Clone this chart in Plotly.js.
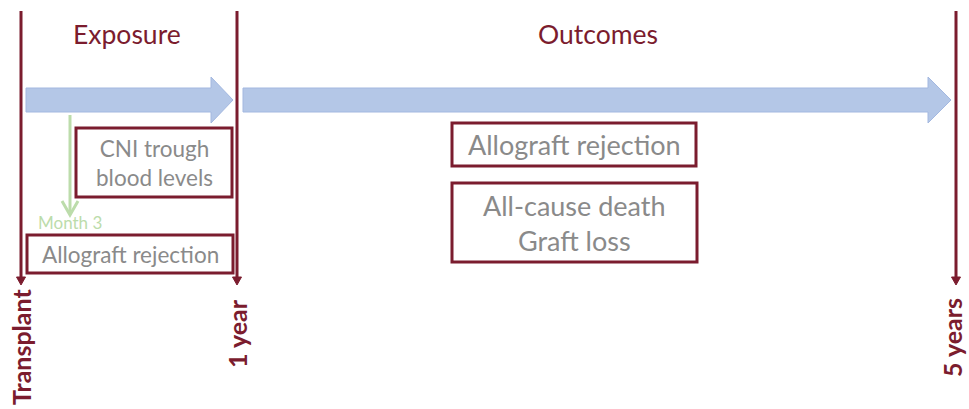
<!DOCTYPE html>
<html>
<head>
<meta charset="utf-8">
<script src="https://cdn.plot.ly/plotly-3.0.1.min.js"></script>
<style>html,body{margin:0;padding:0;background:#fff}#chart{width:969px;height:409px}</style>
</head>
<body>
<div id="chart"></div>
<script>
// ---- content (text of the schematic) ----
const phases = ['Exposure', 'Outcomes'];
const timepoints = ['Transplant', '1 year', '5 years'];
const exposureBoxes = [['CNI trough', 'blood levels'], ['Allograft rejection']];
const outcomeBoxes = [['Allograft rejection'], ['All-cause death', 'Graft loss']];
const markerLabel = 'Month 3';

// ---- geometry / style (pixel space of the schematic) ----
const RED = '#7b1c2e', GREY = '#8a8a8a', BLUE = '#b4c7e7', BLUE_EDGE = '#a3b8e0', GREEN = '#bcdcab';
const FONT = 'Lato, "Open Sans", sans-serif';
const G = {
  timeX: [21, 237, 956], labelX: [21, 237, 952], lineTop: 11, lineEnd: 285, labelY: [347, 334, 338],
  phaseX: [127, 598], phaseY: 34,
  arrows: [{x0: 26, x1: 233, hx: 211}, {x0: 243, x1: 951, hx: 928}], bodyT: 88, bodyB: 112, headT: 77, headB: 123,
  exposureRects: [[76, 128, 232, 197], [27, 235, 233, 273]],
  outcomeRects: [[452, 123, 696, 166], [452, 183, 697, 262]],
  marker: {x: 70, y0: 115, y1: 215, labelY: 222}
};

const shapes = [], annotations = [];

// time lines with arrowheads
timepoints.forEach((t, i) => {
  const x = G.timeX[i];
  shapes.push({type: 'line', x0: x, x1: x, y0: G.lineTop, y1: G.lineEnd - 6, line: {color: RED, width: 3}});
  shapes.push({type: 'path', path: `M${x-4.5},${G.lineEnd-8} L${x+4.5},${G.lineEnd-8} L${x},${G.lineEnd} Z`,
    fillcolor: RED, line: {color: RED, width: 1}});
  annotations.push({x: G.labelX[i], y: G.labelY[i], text: '<b>' + t + '</b>', textangle: -90, showarrow: false,
    xanchor: 'center', yanchor: 'middle', font: {family: FONT, size: 25, color: RED}});
});

// phase titles
phases.forEach((p, i) => annotations.push({x: G.phaseX[i], y: G.phaseY, text: p, showarrow: false,
  font: {family: FONT, size: 26.5, color: RED}}));

// blue block arrows
G.arrows.forEach(a => shapes.push({type: 'path',
  path: `M${a.x0},${G.bodyT} L${a.hx},${G.bodyT} L${a.hx},${G.headT} L${a.x1},${(G.headT+G.headB)/2} L${a.hx},${G.headB} L${a.hx},${G.bodyB} L${a.x0},${G.bodyB} Z`,
  fillcolor: BLUE, line: {color: BLUE_EDGE, width: 1}}));

// boxes
function addBox(r, lines, size) {
  shapes.push({type: 'rect', x0: r[0], y0: r[1], x1: r[2], y1: r[3], line: {color: RED, width: 3}, fillcolor: 'rgba(0,0,0,0)'});
  annotations.push({x: (r[0]+r[2])/2, y: (r[1]+r[3])/2, text: lines.join('<br>'), showarrow: false,
    font: {family: FONT, size: size, color: GREY}, align: 'center'});
}
exposureBoxes.forEach((b, i) => addBox(G.exposureRects[i], b, 22.5));
outcomeBoxes.forEach((b, i) => addBox(G.outcomeRects[i], b, 27));

// month-3 marker arrow
const m = G.marker;
shapes.push({type: 'line', x0: m.x, x1: m.x, y0: m.y0, y1: m.y1 - 1, line: {color: GREEN, width: 3}});
shapes.push({type: 'path', path: `M${m.x-8},${m.y1-14} L${m.x},${m.y1} L${m.x+8},${m.y1-14}`, line: {color: GREEN, width: 3}});
annotations.push({x: m.x, y: m.labelY, text: markerLabel, showarrow: false, font: {family: FONT, size: 17, color: GREEN}});

const layout = {
  width: 969, height: 409, margin: {l: 0, r: 0, t: 0, b: 0},
  paper_bgcolor: '#fff', plot_bgcolor: '#fff', showlegend: false,
  xaxis: {range: [0, 969], visible: false, fixedrange: true},
  yaxis: {range: [409, 0], visible: false, fixedrange: true},
  shapes: shapes, annotations: annotations
};
Plotly.newPlot('chart', [{x: [], y: [], type: 'scatter', hoverinfo: 'skip'}], layout, {staticPlot: true});
</script>
</body>
</html>
